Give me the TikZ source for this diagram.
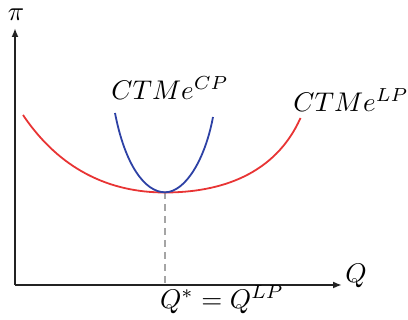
\documentclass[tikz,border=0pt]{standalone}
\usepackage{graphicx}
\usetikzlibrary{arrows.meta}
\definecolor{axiscol}{RGB}{35,35,35}
\definecolor{lpred}{RGB}{232,52,52}
\definecolor{cpblue}{RGB}{45,65,165}
\definecolor{dashgray}{RGB}{165,165,165}
\newcommand{\bigtxt}[1]{\scalebox{2.7}{#1}}
\tikzset{
  axis/.style={draw=axiscol, line width=1.8pt, -{Latex[length=9pt,width=7pt]}},
  curvelp/.style={draw=lpred, line width=1.8pt},
  curvecp/.style={draw=cpblue, line width=1.8pt},
  guide/.style={draw=dashgray, line width=1.6pt, dash pattern=on 7pt off 5pt},
  lbl/.style={inner sep=0pt}
}
\begin{document}
\begin{tikzpicture}[x=1pt,y=-1pt]
\useasboundingbox (0,0) rectangle (408,320);
\coordinate (O) at (15,285);
\coordinate (ytop) at (15,28);
\coordinate (xend) at (342,285);
\coordinate (qmin) at (165,192);
\coordinate (qfoot) at (165,285);
% dashed guide
\draw[guide] (qmin) -- (qfoot);
% axes
\draw[axis] (O) -- (ytop);
\draw[axis] (O) -- (xend);
% red curve
\draw[curvelp] (23,115) .. controls (60,170) and (110,192.5) .. (165,192.5)
  .. controls (220,192.5) and (275,175) .. (300.5,118);
% blue curve
\draw[curvecp] (115,113) .. controls (125,165) and (145,192.3) .. (165,192.3)
  .. controls (185,192.3) and (205,160) .. (213,117);
% labels
\node[lbl] (pi) at (16,15) {\bigtxt{$\pi$}};
\node[lbl] (qlab) at (356,276) {\bigtxt{$Q$}};
\node[lbl] (cp) at (170,88) {\bigtxt{$CTMe^{CP}$}};
\node[lbl] (lp) at (351,100) {\bigtxt{$CTMe^{LP}$}};
\node[lbl] (qstar) at (222,300) {\bigtxt{$Q^{*}=Q^{LP}$}};
\end{tikzpicture}
\end{document}
